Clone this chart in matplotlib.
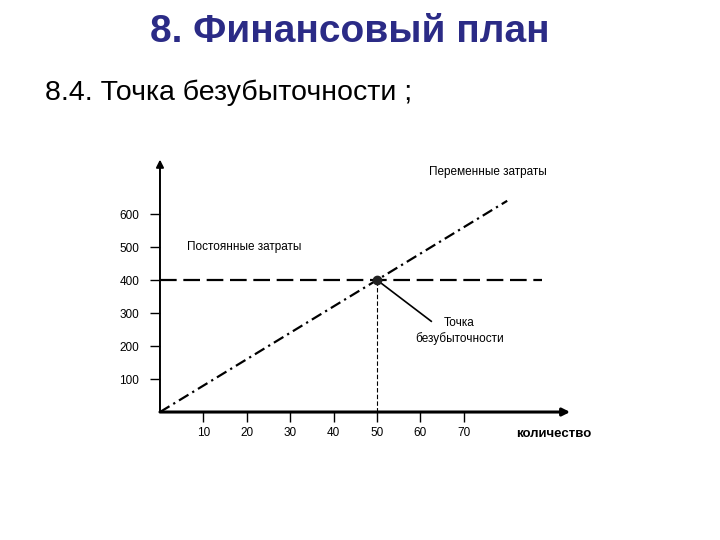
import matplotlib.pyplot as plt
import numpy as np

plt.rcParams['font.family'] = ['Liberation Sans', 'DejaVu Sans']

# chart values
x_ticks = [10, 20, 30, 40, 50, 60, 70]
y_ticks = [100, 200, 300, 400, 500, 600]
fixed_cost = 400
variable_x = [0, 80]
variable_y = [0, 640]
breakeven_q = 50
breakeven_cost = 400

fig = plt.figure(figsize=(7.2, 5.4), dpi=100)
fig.text(0.486, 0.941, "8. Финансовый план", ha="center", va="center",
         fontsize=28, fontweight="bold", color="#2b2b86")
fig.text(0.062, 0.829, "8.4. Точка безубыточности ;", ha="left", va="center",
         fontsize=20.5, color="black")

ax = fig.add_axes([0.2222, 0.237, 0.6028, 0.4889])
ax.set_xlim(0, 100)
ax.set_ylim(0, 800)
for s in ax.spines.values():
    s.set_visible(False)

# axes with arrows
ax.annotate("", xy=(94.5, 0), xytext=(0, 0),
            arrowprops=dict(arrowstyle="-|>", lw=2.2, color="black", mutation_scale=11,
                            shrinkA=0, shrinkB=0))
ax.annotate("", xy=(0, 765), xytext=(0, 0),
            arrowprops=dict(arrowstyle="-|>", lw=1.4, color="black", mutation_scale=11,
                            shrinkA=0, shrinkB=0))

ax.set_xticks(x_ticks)
ax.set_yticks(y_ticks)
ax.tick_params(axis="x", direction="out", length=7, width=1, pad=4, labelsize=8.5)
ax.tick_params(axis="y", direction="out", length=7, width=1, pad=8, labelsize=8.5)

# fixed costs
ax.plot([0, 88], [fixed_cost, fixed_cost], color="black", lw=1.6,
        linestyle=(0, (7.5, 3)))
# variable costs
ax.plot(variable_x, variable_y, color="black", lw=1.6,
        linestyle=(0, (5, 2, 1, 2)))
# break-even
ax.plot([breakeven_q, breakeven_q], [0, breakeven_cost], color="black", lw=0.8,
        linestyle=(0, (4, 2)))
ax.plot([breakeven_q, 62.5], [breakeven_cost, 275], color="black", lw=1.2)
ax.plot(breakeven_q, breakeven_cost, "o", color="#222222", markersize=6)

ax.text(75.5, 727, "Переменные затраты", ha="center", va="center", fontsize=8.5)
ax.text(6.2, 500, "Постоянные затраты", ha="left", va="center", fontsize=8.5)
ax.text(69, 245, "Точка\nбезубыточности", ha="center", va="center", fontsize=8.5,
        linespacing=1.3)
ax.text(82, -66, "количество", ha="left", va="center", fontsize=9.5, fontweight="bold")

fig.savefig("out.png", dpi=100)
